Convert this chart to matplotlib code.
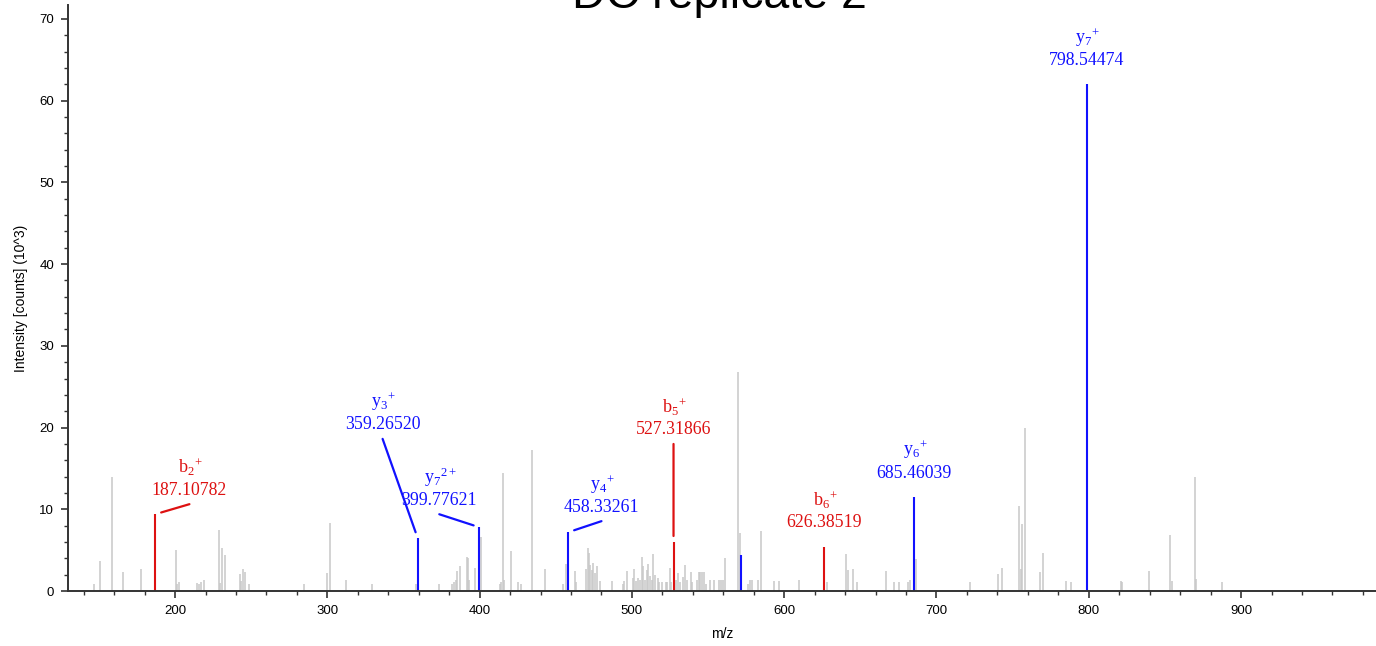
import numpy as np
import matplotlib
matplotlib.use("Agg")
import matplotlib.pyplot as plt
from matplotlib.ticker import MultipleLocator

# unassigned peaks (grey), m/z and intensity in 10^3 counts
grey_mz = [146.5, 150.4, 158.5, 165.6, 177.6, 200.4, 201.3, 202.6, 214.5, 215.8,
           216.9, 218.9, 228.7, 229.6, 230.7, 232.7, 242.6, 243.4, 244.8, 245.9,
           248.7, 284.5, 299.9, 302.0, 312.1, 329.5, 358.5, 373.1, 382.1, 383.2,
           384.3, 385.0, 387.0, 391.4, 392.3, 393.2, 397.1, 401.1, 413.1, 414.2,
           415.1, 416.2, 420.7, 425.4, 427.3, 434.6, 442.7, 454.6, 456.5, 462.7,
           463.6, 470.1, 471.0, 471.9, 472.7, 473.5, 474.7, 475.6, 477.0, 479.1,
           487.0, 494.0, 495.1, 496.5, 500.7, 501.4, 502.9, 504.0, 505.2, 506.3,
           507.4, 508.5, 509.9, 510.8, 511.6, 512.9, 513.8, 515.1, 517.2, 517.7,
           519.6, 522.2, 523.3, 524.7, 525.8, 528.8, 530.3, 531.8, 533.3, 535.1,
           536.2, 538.8, 539.6, 542.8, 543.9, 545.0, 546.3, 547.6, 548.9, 551.1,
           554.2, 557.4, 558.5, 560.1, 561.4, 569.8, 570.7, 576.4, 577.7, 578.8,
           583.0, 584.9, 593.5, 596.6, 609.7, 627.9, 640.9, 642.0, 645.0, 647.7,
           667.0, 671.8, 675.1, 681.4, 682.8, 686.8, 722.1, 740.3, 743.1, 754.1,
           755.2, 756.1, 757.8, 768.1, 770.2, 785.0, 788.1, 799.1, 821.0, 822.0,
           839.4, 853.5, 854.4, 869.5, 870.4, 887.5]
grey_int = [0.8, 3.7, 13.9, 2.3, 2.7, 5.0, 0.9, 1.1, 1.0, 0.9,
            1.1, 1.3, 7.5, 1.0, 5.3, 4.4, 2.1, 1.2, 2.7, 2.3,
            0.9, 0.8, 2.2, 8.3, 1.35, 0.8, 0.8, 0.9, 0.9, 1.1,
            1.4, 2.5, 3.1, 4.1, 4.0, 1.3, 2.8, 6.6, 0.9, 1.1,
            14.4, 1.3, 4.9, 1.1, 0.8, 17.3, 2.65, 0.9, 3.3, 2.5,
            1.1, 2.7, 5.3, 4.7, 3.2, 2.6, 3.4, 2.2, 3.0, 1.2,
            1.2, 0.9, 1.2, 2.5, 1.6, 2.7, 1.2, 1.6, 1.3, 4.1,
            3.1, 1.3, 2.6, 3.3, 1.8, 1.3, 4.5, 2.0, 1.6, 1.1,
            1.1, 1.1, 1.1, 2.8, 1.1, 1.3, 2.2, 1.1, 1.7, 3.2,
            1.4, 2.3, 1.1, 1.3, 2.3, 2.3, 2.3, 2.3, 0.9, 1.3,
            1.3, 1.3, 1.3, 1.3, 4.0, 26.8, 7.1, 0.9, 1.3, 1.4,
            1.4, 7.4, 1.2, 1.2, 1.3, 1.1, 4.5, 2.6, 2.65, 1.1,
            2.4, 1.1, 1.1, 1.1, 1.4, 3.9, 1.1, 2.1, 2.8, 10.4,
            2.7, 8.2, 20.0, 2.3, 4.7, 1.2, 1.1, 22.1, 1.2, 1.1,
            2.4, 6.8, 1.2, 14.0, 1.5, 1.1]

# assigned fragment ions
ion_names = [r"$\mathrm{b}_{2}{}^{+}$", r"$\mathrm{y}_{3}{}^{+}$", r"$\mathrm{y}_{7}{}^{2+}$",
             r"$\mathrm{y}_{4}{}^{+}$", r"$\mathrm{b}_{5}{}^{+}$", r"$\mathrm{b}_{6}{}^{+}$",
             r"$\mathrm{y}_{6}{}^{+}$", r"$\mathrm{y}_{7}{}^{+}$"]
ion_mz = [187.10782, 359.26520, 399.77621, 458.33261, 527.31866, 626.38519,
          685.46039, 798.54474]
ion_int = [9.4, 6.5, 7.8, 7.2, 6.0, 5.4, 11.5, 62.0]
ion_type = ["b", "y", "y", "y", "b", "b", "y", "y"]

# a blue peak with no label
extra_mz = [571.5]
extra_int = [4.4]

# label layout (pixels from peak top), leader flag
label_dx = [34, -35, -40, 33, 0, 0, 0, 0]
label_dy = [24, 113, 27, 25, 112, 24, 24, 24]
leader = [True, True, True, True, True, False, False, False]

RED = "#dd1111"
BLUE = "#1111ff"
colors = {"b": RED, "y": BLUE}

plt.rcParams["font.family"] = ["Liberation Sans", "DejaVu Sans"]
plt.rcParams["mathtext.fontset"] = "custom"
plt.rcParams["mathtext.rm"] = "Liberation Serif"
plt.rcParams["mathtext.it"] = "Liberation Serif:italic"

fig = plt.figure(figsize=(13.76, 6.46), dpi=100)
ax = fig.add_axes([68 / 1376, 55 / 646, 1 - 68 / 1376, (591 - 5) / 646])

ax.vlines(grey_mz, 0, grey_int, color="#c8c8c8", lw=1.1)
ax.vlines(extra_mz, 0, extra_int, color=BLUE, lw=1.5)
ax.vlines(ion_mz, 0, ion_int, color=[colors[t] for t in ion_type], lw=1.5)

for name, mz, inten, t, dx, dy, ld in zip(ion_names, ion_mz, ion_int, ion_type,
                                          label_dx, label_dy, leader):
    c = colors[t]
    ax.annotate("%.5f" % mz, xy=(mz, inten), xytext=(dx, dy), textcoords="offset pixels",
                ha="center", va="center", color=c, fontsize=12.8, family="Liberation Serif")
    ax.annotate(name, xy=(mz, inten), xytext=(dx + 1, dy + 23), textcoords="offset pixels",
                ha="center", va="center", color=c, fontsize=13)
    if ld:
        ax.annotate("", xy=(mz, inten), xytext=(dx, dy - 14), textcoords="offset pixels",
                    arrowprops=dict(arrowstyle="-", color=c, lw=1.6,
                                    shrinkA=0, shrinkB=4.3))

ax.set_xlim(129.7, 988.6)
ax.set_ylim(0, 71.7)
ax.xaxis.set_major_locator(MultipleLocator(100))
ax.xaxis.set_minor_locator(MultipleLocator(20))
ax.yaxis.set_major_locator(MultipleLocator(10))
ax.yaxis.set_minor_locator(MultipleLocator(2))

for s in ["top", "right"]:
    ax.spines[s].set_visible(False)
for s in ["left", "bottom"]:
    ax.spines[s].set_color("#333333")
    ax.spines[s].set_linewidth(1.4)
ax.tick_params(which="major", direction="out", length=5, width=1.2, color="#333333",
               labelsize=9.5, pad=5)
ax.tick_params(which="minor", direction="out", length=3, width=1.0, color="#333333")

ax.set_xlabel("m/z", fontsize=10, labelpad=7)
ax.set_ylabel("Intensity [counts] (10^3)", fontsize=10, labelpad=8)

# title sits mostly above the figure edge, as in the source image
fig.text(719.5 / 1376, 1 - 8 / 646, "DC replicate 2", ha="center", va="baseline",
         fontsize=33.5)

fig.savefig("out.png", dpi=100)
